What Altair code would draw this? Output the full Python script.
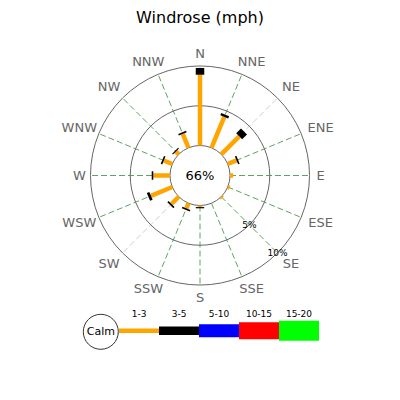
import altair as alt
import pandas as pd

# ---------------- data ----------------
directions = ["N", "NNE", "NE", "ENE", "E", "ESE", "SE", "SSE",
              "S", "SSW", "SW", "WSW", "W", "WNW", "NW", "NNW"]
pct_1_3 = [8.9, 4.2, 3.2, 1.2, 0.4, 0.25, 0.2, 0.0,
           0.2, 0.7, 1.3, 2.9, 2.1, 1.15, 0.5, 1.9]
pct_3_5 = [0.85, 0.3, 0.85, 0.2, 0.0, 0.0, 0.0, 0.0,
           0.15, 0.2, 0.2, 0.35, 0.2, 0.2, 0.15, 0.2]
range_labels = ["1-3", "3-5", "5-10", "10-15", "15-20"]
calm_pct = 66
grid_pcts = [5, 10]
title_text = "Windrose (mph)"

# ---------------- style ----------------
FONT = "DejaVu Sans"
range_colors = ["#FFA500", "#000000", "#0000FF", "#FF0000", "#00FF00"]
bar_widths = [4.5, 8.5, 13, 17, 20]
R0 = 30.0      # radius of calm circle (px)
PX = 7.95      # px per percent
LBL_R = 116.0  # label radius
GRID_COL = "#666666"
SPOKE_COL = "#5fa45f"
SPOKE_LIGHT = "#b9dcb9"
LEG_X0, LEG_SEG, LEG_Y = -81.0, 40.0, -155.3
LEG_LBL_Y = -138.8
CALM_X, CALM_Y, CALM_R = -99.2, -156.3, 17.5
TITLE_Y = 157.5

XS = alt.Scale(domain=[-192, 192], nice=False, zero=False)
YS = alt.Scale(domain=[-216.5, 167.5], nice=False, zero=False)


def X(f):
    return alt.X(f, type="quantitative", scale=XS, axis=None)


def Y(f):
    return alt.Y(f, type="quantitative", scale=YS, axis=None)


THETA = "datum.i * PI / 8"

# ---------------- tables ----------------
dir_df = pd.DataFrame({"i": range(len(directions)), "dir": directions})
dir_df["scol"] = [SPOKE_LIGHT if d in ("NE", "SW") else SPOKE_COL for d in directions]

rows = []
for i, (a, b) in enumerate(zip(pct_1_3, pct_3_5)):
    if a > 0:
        rows.append({"i": i, "start": 0.0, "end": a, "color": range_colors[0], "w": bar_widths[0]})
    if b > 0:
        rows.append({"i": i, "start": a, "end": a + b, "color": range_colors[1], "w": bar_widths[1]})
bars_df = pd.DataFrame(rows)

circ_df = pd.DataFrame({"p": [0] + grid_pcts, "fill": ["white", "transparent", "transparent"]})
circ_df["x"] = 0.0
circ_df["y"] = 0.0

gl_df = pd.DataFrame({"p": grid_pcts, "lbl": [f"{p}%" for p in grid_pcts]})

leg_df = pd.DataFrame({"k": range(len(range_labels)), "lbl": range_labels,
                       "color": range_colors, "h": bar_widths})

calm_df = pd.DataFrame({"x": [0.0], "y": [0.0], "t": [f"{calm_pct}%"]})
calm_leg_df = pd.DataFrame({"x": [CALM_X], "y": [CALM_Y], "t": ["Calm"]})
title_df = pd.DataFrame({"x": [0.0], "y": [TITLE_Y], "t": [title_text]})

# ---------------- layers ----------------
spokes = alt.Chart(dir_df).transform_calculate(
    s=f"sin({THETA})", c=f"cos({THETA})"
).transform_calculate(
    x=f"{R0} * datum.s", y=f"{R0} * datum.c",
    x2=f"{R0 + PX * max(grid_pcts)} * datum.s", y2=f"{R0 + PX * max(grid_pcts)} * datum.c",
).mark_rule(strokeDash=[6, 3], strokeWidth=1).encode(
    x=X("x"), y=Y("y"), x2="x2:Q", y2="y2:Q",
    color=alt.Color("scol:N", scale=None),
)

circles = alt.Chart(circ_df).transform_calculate(
    sz=f"pow(2 * ({R0} + {PX} * datum.p), 2)"
).mark_point(shape="circle", stroke=GRID_COL, strokeWidth=1, opacity=1).encode(
    x=X("x"), y=Y("y"),
    size=alt.Size("sz:Q", scale=None),
    fill=alt.Fill("fill:N", scale=None),
)

bars = alt.Chart(bars_df).transform_calculate(
    s=f"sin({THETA})", c=f"cos({THETA})",
    r0=f"{R0} + {PX} * datum.start", r1=f"{R0} + {PX} * datum.end",
).transform_calculate(
    x="datum.r0 * datum.s", y="datum.r0 * datum.c",
    x2="datum.r1 * datum.s", y2="datum.r1 * datum.c",
).mark_rule(strokeCap="butt").encode(
    x=X("x"), y=Y("y"), x2="x2:Q", y2="y2:Q",
    color=alt.Color("color:N", scale=None),
    strokeWidth=alt.StrokeWidth("w:Q", scale=None),
)

dir_labels = alt.Chart(dir_df).transform_calculate(
    s=f"sin({THETA})", c=f"cos({THETA})", hw="length(datum.dir) * 4.5"
).transform_calculate(
    sx="datum.s > 0.01 ? 1 : (datum.s < -0.01 ? -1 : 0)",
    sy="datum.c > 0.01 ? 1 : (datum.c < -0.01 ? -1 : 0)",
    fx="min(1, abs(datum.s) / 0.707)", fy="min(1, abs(datum.c) / 0.707)",
).transform_calculate(
    x=f"{LBL_R} * datum.s + datum.sx * datum.hw * datum.fx",
    y=f"{LBL_R} * datum.c + datum.sy * 6 * datum.fy",
).mark_text(font=FONT, fontSize=13, color="#666666", align="center", baseline="middle").encode(
    x=X("x"), y=Y("y"), text="dir:N"
)

grid_labels = alt.Chart(gl_df).transform_calculate(
    r=f"{R0} + {PX} * datum.p"
).transform_calculate(
    x="datum.r * sin(3 * PI / 4)", y="datum.r * cos(3 * PI / 4)"
).mark_text(font=FONT, fontSize=9, color="black", align="center", baseline="middle").encode(
    x=X("x"), y=Y("y"), text="lbl:N"
)

calm_text = alt.Chart(calm_df).mark_text(
    font=FONT, fontSize=13, color="black", align="center", baseline="middle"
).encode(x=X("x"), y=Y("y"), text="t:N")

title = alt.Chart(title_df).mark_text(
    font=FONT, fontSize=16, color="black", align="center", baseline="middle"
).encode(x=X("x"), y=Y("y"), text="t:N")

legend_bars = alt.Chart(leg_df).transform_calculate(
    x=f"{LEG_X0} + {LEG_SEG} * datum.k", x2=f"{LEG_X0} + {LEG_SEG} * (datum.k + 1)",
    y=f"{LEG_Y} - datum.h / 2", y2=f"{LEG_Y} + datum.h / 2",
).mark_rect().encode(
    x=X("x"), x2="x2:Q", y=Y("y"), y2="y2:Q",
    color=alt.Color("color:N", scale=None),
)

legend_labels = alt.Chart(leg_df).transform_calculate(
    x=f"{LEG_X0} + {LEG_SEG} * (datum.k + 0.5)", y=f"{LEG_LBL_Y}"
).mark_text(font=FONT, fontSize=9, color="black", align="center", baseline="middle").encode(
    x=X("x"), y=Y("y"), text="lbl:N"
)

calm_circle = alt.Chart(calm_leg_df).transform_calculate(
    sz=f"pow(2 * {CALM_R}, 2)"
).mark_point(shape="circle", filled=True, fill="white", stroke="#333333",
             strokeWidth=1, opacity=1).encode(
    x=X("x"), y=Y("y"), size=alt.Size("sz:Q", scale=None)
)

calm_leg_text = alt.Chart(calm_leg_df).mark_text(
    font=FONT, fontSize=11, color="black", align="center", baseline="middle"
).encode(x=X("x"), y=Y("y"), text="t:N")

chart = alt.layer(
    spokes, circles, bars, dir_labels, grid_labels, calm_text, title,
    legend_bars, calm_circle, calm_leg_text, legend_labels,
).properties(
    width=384, height=384,
    autosize=alt.AutoSizeParams(type="none"),
    padding=0,
    background="white",
).configure_view(strokeWidth=0)

chart.save("out.html", embed_options={"renderer": "svg", "actions": False})
